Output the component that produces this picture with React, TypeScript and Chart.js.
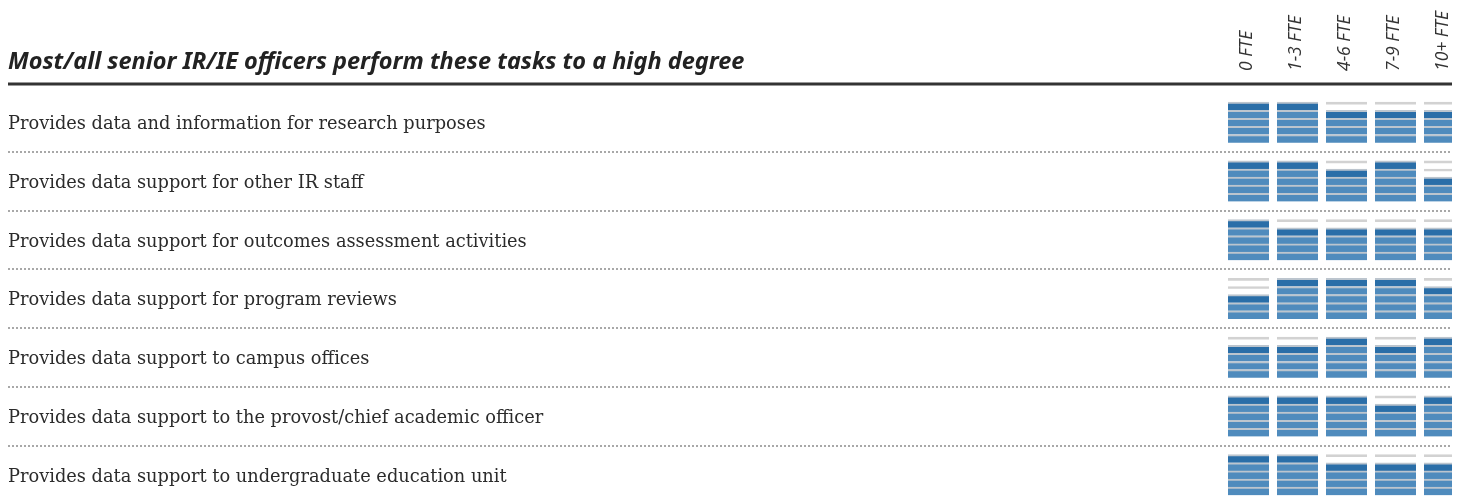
import React, { useEffect, useRef } from 'react';
import { Chart, registerables } from 'chart.js';

Chart.register(...registerables);

const chartTitle = 'Most/all senior IR/IE officers perform these tasks to a high degree';

const tasks = [
  'Provides data and information for research purposes',
  'Provides data support for other IR staff',
  'Provides data support for outcomes assessment activities',
  'Provides data support for program reviews',
  'Provides data support to campus offices',
  'Provides data support to the provost/chief academic officer',
  'Provides data support to undergraduate education unit',
];

const columns = ['0 FTE', '1-3 FTE', '4-6 FTE', '7-9 FTE', '10+ FTE'];

// number of filled levels (out of 5) per task, one array per staff-size column
const fte0 = [5, 5, 5, 3, 4, 5, 5];
const fte1to3 = [5, 5, 4, 5, 4, 5, 5];
const fte4to6 = [4, 4, 4, 5, 5, 5, 4];
const fte7to9 = [4, 5, 4, 5, 4, 4, 4];
const fte10plus = [4, 3, 4, 4, 5, 5, 4];

const levels = 5;

const DARK = '#2a6ea8';
const LIGHT = '#4f8bbd';
const FILLED_LINE = '#bcc5ce';
const EMPTY_LINE = '#d2d2d2';

export default function App() {
  const ref = useRef<HTMLCanvasElement>(null);

  useEffect(() => {
    const canvas = ref.current;
    if (!canvas) return;
    const series = [fte0, fte1to3, fte4to6, fte7to9, fte10plus];
    const cellH = 0.69;
    const s = cellH / levels;

    const datasets: any[] = [];
    tasks.forEach((task, r) => {
      for (let k = 0; k < levels; k++) {
        const lo = r + cellH / 2 - k * s;
        const hi = lo - s;
        datasets.push({
          label: task + ' ' + (k + 1),
          data: columns.map(() => [hi, lo]),
          backgroundColor: series.map((col) =>
            k < col[r] - 1 ? LIGHT : k === col[r] - 1 ? DARK : 'rgba(255,255,255,0)'
          ),
          borderColor: series.map((col) => (k < col[r] ? FILLED_LINE : EMPTY_LINE)),
          borderWidth: { top: 2, right: 0, bottom: 0, left: 0 },
          borderSkipped: false,
          grouped: false,
          barPercentage: 1,
          categoryPercentage: 1,
          maxBarThickness: 41,
        });
      }
    });

    const decor = {
      id: 'decor',
      beforeDatasetsDraw(chart: any) {
        const { ctx, width } = chart;
        const y = chart.scales.y;
        ctx.save();
        ctx.fillStyle = '#222';
        ctx.font = 'italic 700 20px "Noto Sans"';
        const w = ctx.measureText(chartTitle).width;
        const size = (20 * 737) / w;
        ctx.font = `italic 700 ${size.toFixed(2)}px "Noto Sans"`;
        ctx.textAlign = 'left';
        ctx.textBaseline = 'alphabetic';
        ctx.fillText(chartTitle, 0, 60.5);
        ctx.fillStyle = '#333';
        ctx.fillRect(0, 74.5, width, 3);
        ctx.strokeStyle = '#a8a8a8';
        ctx.lineWidth = 2;
        ctx.setLineDash([2, 2]);
        for (let r = 0; r < tasks.length - 1; r++) {
          const yy = Math.round(y.getPixelForValue(r + 0.5));
          ctx.beginPath();
          ctx.moveTo(0, yy);
          ctx.lineTo(width, yy);
          ctx.stroke();
        }
        ctx.restore();
      },
    };

    const chart = new Chart(canvas, {
      type: 'bar',
      data: { labels: columns, datasets },
      options: {
        animation: false,
        responsive: false,
        layout: { padding: { left: 0, right: 9, top: 0, bottom: 9.6 } },
        plugins: { legend: { display: false }, tooltip: { enabled: false } },
        scales: {
          x: {
            type: 'category',
            position: 'top',
            offset: true,
            grid: { display: false, drawTicks: false },
            border: { display: false },
            ticks: {
              minRotation: 90,
              maxRotation: 90,
              padding: 22,
              labelOffset: 20,
              autoSkip: false,
              color: '#333',
              font: { family: '"Open Sans"', size: 17.5, style: 'italic' },
            },
            afterFit: (scale: any) => {
              scale.height = 85;
            },
          },
          y: {
            type: 'linear',
            reverse: true,
            min: -0.5,
            max: tasks.length - 0.5,
            grid: { display: false, drawTicks: false },
            border: { display: false },
            afterBuildTicks: (scale: any) => {
              scale.ticks = tasks.map((_, i) => ({ value: i }));
            },
            ticks: {
              crossAlign: 'far',
              autoSkip: false,
              labelOffset: 2,
              color: '#2b2b2b',
              font: { family: '"DejaVu Serif"', size: 17.8 },
              callback: (v: any) => tasks[v as number] ?? '',
            },
            afterFit: (scale: any) => {
              scale.width = 1216;
            },
          },
        },
      },
      plugins: [decor],
    });
    return () => chart.destroy();
  }, []);

  return (
    <div style={{ width: 1452, height: 492, overflow: 'hidden' }}>
      <canvas ref={ref} width={1470} height={510} style={{ display: 'block' }} />
    </div>
  );
}
